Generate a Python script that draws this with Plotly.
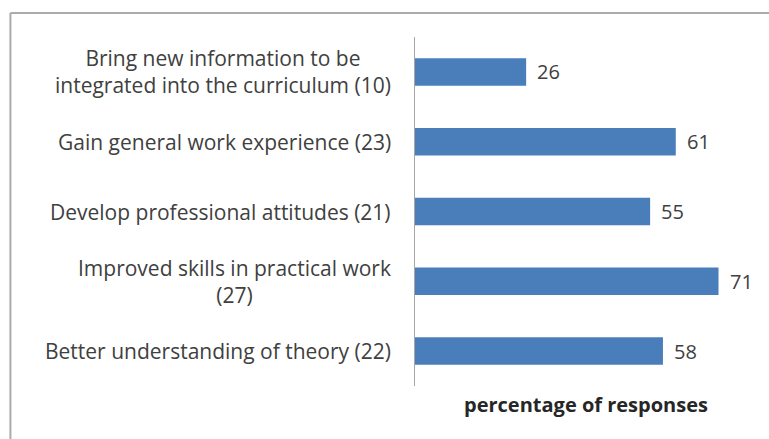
import plotly.graph_objects as go

# Survey results: reasons given, with respondent counts in brackets
categories = [
    "Better understanding of theory (22)",
    "Improved skills in practical work<br>(27)",
    "Develop professional attitudes (21)",
    "Gain general work experience (23)",
    "Bring new information to be<br>integrated into the curriculum (10)",
]
percentages = [58, 71, 55, 61, 26]
axis_title = "percentage of responses"

BAR_COLOR = "#4a7ebb"
TEXT_COLOR = "#404040"
FONT = "'Open Sans', Lato, sans-serif"

fig = go.Figure(
    go.Bar(
        x=percentages,
        y=categories,
        orientation="h",
        marker=dict(color=BAR_COLOR, line=dict(width=0)),
        hoverinfo="x+y",
    )
)

# Category labels, centred line by line, to the left of the axis
for cat in categories:
    fig.add_annotation(
        x=-0.065, xref="paper", xanchor="right",
        y=cat, yref="y", yanchor="middle",
        text=cat, align="center", showarrow=False,
        font=dict(family=FONT, size=21, color=TEXT_COLOR),
    )

# Value labels just past the end of each bar
for cat, val in zip(categories, percentages):
    fig.add_annotation(
        x=val, xref="x", xanchor="left", xshift=9,
        y=cat, yref="y", yanchor="middle",
        text=str(val), showarrow=False,
        font=dict(family=FONT, size=20, color=TEXT_COLOR),
    )

# Chart frame
frame = dict(color="#ababab", width=2)
fig.add_shape(type="line", xref="paper", yref="paper",
              x0=-1.183, x1=1.2, y0=1.069, y1=1.069, line=frame)
fig.add_shape(type="line", xref="paper", yref="paper",
              x0=-1.183, x1=-1.183, y0=1.069, y1=-0.2, line=frame)

fig.update_layout(
    width=769, height=439,
    margin=dict(l=415, r=12, t=37, b=52.5, autoexpand=False),
    paper_bgcolor="white", plot_bgcolor="white",
    bargap=0.606,
    showlegend=False,
    font=dict(family=FONT, color=TEXT_COLOR),
    xaxis=dict(
        range=[0, 80], showgrid=False, zeroline=False,
        showticklabels=False, ticks="", showline=False,
        title=dict(text="<b>" + axis_title + "</b>", standoff=11,
                   font=dict(family=FONT, size=20, color="#262626")),
    ),
    yaxis=dict(
        showticklabels=False, ticks="", showgrid=False,
        showline=True, linecolor="#a6a6a6", linewidth=1,
        categoryorder="array", categoryarray=categories,
    ),
)

fig.write_html("out.html")
